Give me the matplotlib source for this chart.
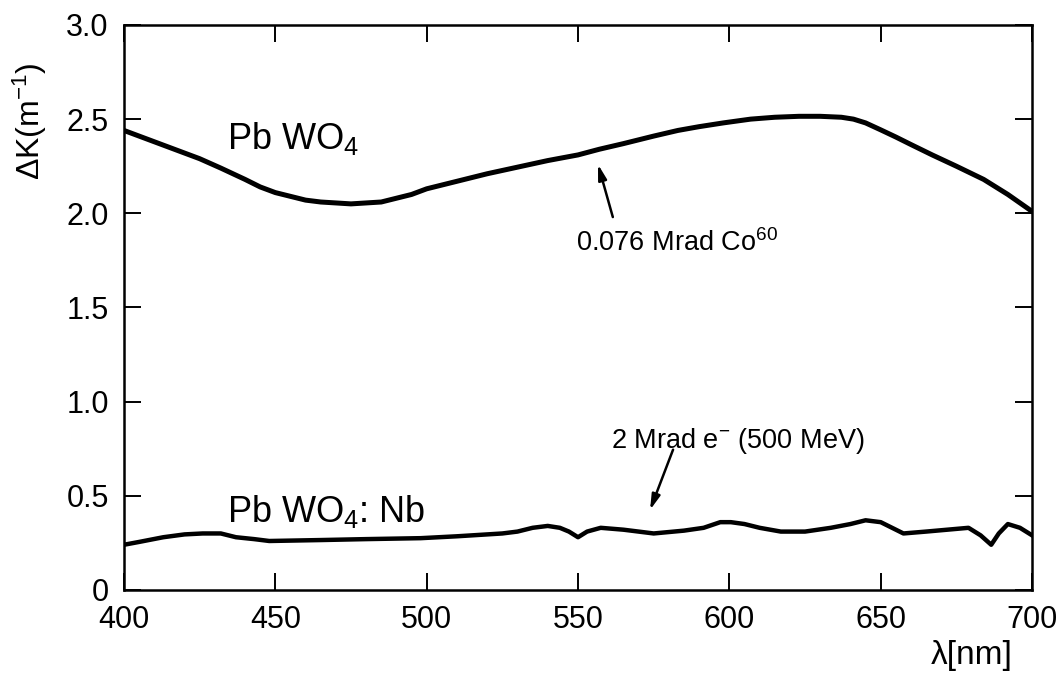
import matplotlib
matplotlib.use('Agg')
from matplotlib import rcParams
rcParams['font.family'] = ['Liberation Sans', 'DejaVu Sans']
rcParams['mathtext.fontset'] = 'custom'
rcParams['mathtext.rm'] = 'Liberation Sans'
rcParams['mathtext.it'] = 'Liberation Sans:italic'
rcParams['mathtext.default'] = 'regular'
import matplotlib.pyplot as plt

# Pb WO4, 0.076 Mrad Co60
wl_pure = [400, 405, 410, 415, 425, 432, 440, 445, 450, 455, 460, 465, 470,
           475, 480, 485, 490, 495, 500, 510, 520, 530, 540, 550, 557, 565,
           575, 583, 590, 598, 607, 615, 623, 630, 637, 641, 645, 650, 655,
           660, 667, 675, 684, 692, 700]
dk_pure = [2.44, 2.41, 2.38, 2.35, 2.29, 2.24, 2.18, 2.14, 2.11, 2.09, 2.07,
           2.06, 2.055, 2.05, 2.055, 2.06, 2.08, 2.10, 2.13, 2.17, 2.21, 2.245,
           2.28, 2.31, 2.34, 2.37, 2.41, 2.44, 2.46, 2.48, 2.50, 2.51, 2.515,
           2.515, 2.51, 2.50, 2.48, 2.443, 2.405, 2.365, 2.31, 2.25, 2.18, 2.10,
           2.01]

# Pb WO4:Nb, 2 Mrad e- (500 MeV)
wl_nb = [400, 405, 413, 420, 426, 432, 437, 443, 448, 465, 480, 498, 510,
         525, 530, 535, 540, 544, 547, 550, 553, 557.5, 565, 575, 585, 591.5,
         597, 600.5, 605, 610, 617, 625, 633.5, 640, 645, 650, 657.5, 665,
         672, 679, 683, 686.5, 689, 692, 696, 700]
dk_nb = [0.24, 0.255, 0.28, 0.295, 0.30, 0.30, 0.28, 0.27, 0.26, 0.265, 0.27,
         0.275, 0.285, 0.30, 0.31, 0.33, 0.34, 0.33, 0.31, 0.28, 0.31, 0.33,
         0.32, 0.30, 0.315, 0.33, 0.36, 0.36, 0.35, 0.33, 0.31, 0.31, 0.33,
         0.35, 0.37, 0.36, 0.30, 0.31, 0.32, 0.33, 0.29, 0.24, 0.30, 0.35,
         0.33, 0.29]

xticks = [400, 450, 500, 550, 600, 650, 700]
yticks = [0, 0.5, 1.0, 1.5, 2.0, 2.5, 3.0]
ytick_labels = ['0', '0.5', '1.0', '1.5', '2.0', '2.5', '3.0']

fig = plt.figure(figsize=(10.64, 6.86), dpi=100)
ax = fig.add_axes([0.1165, 0.140, 0.8535, 0.8236])

ax.plot(wl_pure, dk_pure, color='k', lw=3.6, solid_joinstyle='round')
ax.plot(wl_nb, dk_nb, color='k', lw=3.2, solid_joinstyle='round')

ax.set_xlim(400, 700)
ax.set_ylim(0, 3.0)
ax.set_xticks(xticks)
ax.set_yticks(yticks)
ax.set_yticklabels(ytick_labels)
ax.tick_params(direction='in', length=12, width=1.4, labelsize=22, pad=11,
               top=True, right=True)
for s in ax.spines.values():
    s.set_linewidth(1.8)

# labels
ax.set_ylabel('ΔK(m$^{-1}$)', fontsize=23)
ax.yaxis.set_label_coords(-0.082, 0.83)
ax.set_xlabel('λ[nm]', fontsize=24)
ax.xaxis.set_label_coords(0.934, -0.088)

ax.text(434, 2.34, 'Pb WO$_4$', fontsize=26, va='baseline')
ax.text(434, 0.36, 'Pb WO$_4$: Nb', fontsize=26, va='baseline')
ax.text(549.3, 1.80, '0.076 Mrad Co$^{60}$', fontsize=19.5, va='baseline')
ax.text(561, 0.755, '2 Mrad e$^{-}$ (500 MeV)', fontsize=19.5, va='baseline')

arrow = dict(arrowstyle='-|>,head_length=0.9,head_width=0.25', lw=1.8,
             color='k', shrinkA=0, shrinkB=0)
ax.annotate('', xy=(556.6, 2.26), xytext=(561.5, 1.98), arrowprops=arrow)
ax.annotate('', xy=(573.8, 0.425), xytext=(581.4, 0.745), arrowprops=arrow)

plt.savefig('out.png', dpi=100)
